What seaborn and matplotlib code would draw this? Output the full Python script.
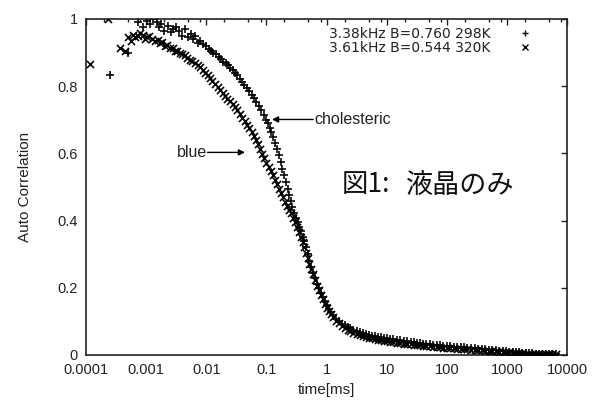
import matplotlib
matplotlib.use("Agg")
import matplotlib.pyplot as plt
import matplotlib.ticker as mticker
from matplotlib.lines import Line2D
import seaborn as sns
import pandas as pd

# ---- data: (time [ms], auto correlation) ----
cholesteric_298K = [
    (2.5e-4, 0.833), (5.0e-4, 0.900), (7.3e-4, 0.990), (9.0e-4, 0.975), (1.03e-3, 0.995),
    (1.15e-3, 0.985), (1.3e-3, 1.000), (1.5e-3, 0.990), (1.65e-3, 0.975), (1.8e-3, 0.985),
    (2.0e-3, 0.965), (2.3e-3, 0.980), (2.6e-3, 0.960), (2.8e-3, 0.970), (3.2e-3, 0.975),
    (3.5e-3, 0.965), (4.0e-3, 0.950), (4.4e-3, 0.970), (5.0e-3, 0.945), (5.5e-3, 0.955),
    (6.0e-3, 0.940), (6.5e-3, 0.950), (7.3e-3, 0.930), (8.0e-3, 0.934), (9.0e-3, 0.925),
    (1.0e-2, 0.920), (1.1e-2, 0.910), (1.2e-2, 0.905), (1.3e-2, 0.898), (1.45e-2, 0.895),
    (1.6e-2, 0.886), (1.75e-2, 0.880), (1.9e-2, 0.873), (2.1e-2, 0.868), (2.3e-2, 0.862),
    (2.5e-2, 0.855), (2.75e-2, 0.848), (3.0e-2, 0.840), (3.3e-2, 0.832), (3.6e-2, 0.822),
    (4.0e-2, 0.812), (4.3e-2, 0.805), (4.7e-2, 0.795), (5.2e-2, 0.785), (5.7e-2, 0.775),
    (6.2e-2, 0.765), (6.8e-2, 0.752), (7.5e-2, 0.740), (8.2e-2, 0.728), (9.0e-2, 0.715),
    (0.098, 0.700), (0.105, 0.690), (0.113, 0.676), (0.12, 0.665), (0.13, 0.648),
    (0.14, 0.630), (0.15, 0.612), (0.16, 0.595), (0.172, 0.575), (0.185, 0.555),
    (0.197, 0.535), (0.21, 0.515), (0.225, 0.495), (0.24, 0.475), (0.255, 0.458),
    (0.27, 0.440), (0.29, 0.424), (0.31, 0.408), (0.33, 0.395), (0.35, 0.382),
    (0.375, 0.368), (0.40, 0.352), (0.425, 0.338), (0.45, 0.322), (0.485, 0.300),
    (0.52, 0.280), (0.56, 0.262), (0.60, 0.245), (0.65, 0.228), (0.70, 0.212),
    (0.75, 0.198), (0.80, 0.186), (0.87, 0.172), (0.95, 0.160), (1.02, 0.148),
    (1.1, 0.138), (1.2, 0.127), (1.3, 0.118), (1.45, 0.108), (1.6, 0.100),
    (1.8, 0.093), (2.0, 0.088), (2.25, 0.083), (2.5, 0.079), (2.8, 0.075),
    (3.2, 0.071), (3.6, 0.068), (4.0, 0.066), (4.5, 0.063), (5.0, 0.061),
    (5.7, 0.058), (6.5, 0.057), (7.2, 0.054), (8.0, 0.053), (9.0, 0.051),
    (10, 0.050), (11.5, 0.048), (13, 0.047), (15, 0.045), (17, 0.044),
    (19.5, 0.042), (22, 0.041), (25, 0.040), (28, 0.038), (32, 0.037),
    (36, 0.035), (41, 0.034), (46, 0.033), (53, 0.032), (60, 0.031),
    (68, 0.030), (78, 0.029), (88, 0.028), (100, 0.027), (115, 0.026),
    (130, 0.025), (150, 0.024), (170, 0.023), (195, 0.023), (220, 0.022),
    (250, 0.021), (290, 0.020), (330, 0.019), (380, 0.018), (440, 0.017),
    (500, 0.016), (570, 0.015), (650, 0.014), (740, 0.013), (850, 0.012),
    (970, 0.011), (1100, 0.010), (1250, 0.009), (1400, 0.008), (1600, 0.008),
    (1800, 0.007), (2050, 0.006), (2300, 0.005), (2650, 0.005), (3000, 0.004),
    (3400, 0.004), (3800, 0.003), (4400, 0.003), (5000, 0.003), (5700, 0.003),
    (6500, 0.003),
]

blue_320K = [
    (1.17e-4, 0.866), (2.3e-4, 1.000), (3.7e-4, 0.913), (4.4e-4, 0.905), (5.0e-4, 0.946),
    (5.5e-4, 0.935), (6.0e-4, 0.952), (6.6e-4, 0.945), (7.3e-4, 0.950), (8.0e-4, 0.958),
    (8.8e-4, 0.952), (9.5e-4, 0.940), (1.03e-3, 0.946), (1.13e-3, 0.950), (1.25e-3, 0.940),
    (1.4e-3, 0.934), (1.55e-3, 0.938), (1.7e-3, 0.928), (1.85e-3, 0.932), (2.06e-3, 0.920),
    (2.25e-3, 0.922), (2.5e-3, 0.913), (2.75e-3, 0.915), (3.0e-3, 0.904), (3.3e-3, 0.906),
    (3.6e-3, 0.898), (4.0e-3, 0.895), (4.4e-3, 0.893), (4.8e-3, 0.885), (5.3e-3, 0.878),
    (5.9e-3, 0.876), (6.5e-3, 0.870), (7.2e-3, 0.862), (8.0e-3, 0.858), (8.7e-3, 0.848),
    (9.5e-3, 0.840), (1.05e-2, 0.832), (1.15e-2, 0.825), (1.27e-2, 0.816), (1.4e-2, 0.808),
    (1.55e-2, 0.798), (1.7e-2, 0.790), (1.87e-2, 0.780), (2.06e-2, 0.772), (2.25e-2, 0.763),
    (2.5e-2, 0.755), (2.75e-2, 0.746), (3.0e-2, 0.738), (3.3e-2, 0.728), (3.6e-2, 0.718),
    (4.0e-2, 0.706), (4.4e-2, 0.695), (4.8e-2, 0.685), (5.2e-2, 0.675), (5.7e-2, 0.663),
    (6.2e-2, 0.652), (6.7e-2, 0.640), (7.2e-2, 0.628), (7.8e-2, 0.613), (8.5e-2, 0.598),
    (9.2e-2, 0.585), (0.10, 0.572), (0.11, 0.560), (0.12, 0.548), (0.13, 0.535),
    (0.14, 0.522), (0.152, 0.508), (0.165, 0.495), (0.177, 0.482), (0.19, 0.470),
    (0.205, 0.455), (0.22, 0.442), (0.24, 0.433), (0.26, 0.422), (0.28, 0.408),
    (0.30, 0.395), (0.325, 0.380), (0.35, 0.365), (0.375, 0.350), (0.40, 0.335),
    (0.425, 0.320), (0.45, 0.305), (0.485, 0.288), (0.52, 0.272), (0.56, 0.256),
    (0.60, 0.240), (0.65, 0.222), (0.70, 0.205), (0.75, 0.192), (0.80, 0.180),
    (0.87, 0.166), (0.95, 0.152), (1.02, 0.141), (1.1, 0.131), (1.2, 0.121),
    (1.3, 0.112), (1.45, 0.102), (1.6, 0.094), (1.8, 0.086), (2.0, 0.080),
    (2.25, 0.075), (2.5, 0.070), (2.8, 0.066), (3.2, 0.062), (3.6, 0.059),
    (4.0, 0.056), (4.5, 0.054), (5.0, 0.052), (5.7, 0.050), (6.5, 0.048),
    (7.2, 0.046), (8.0, 0.045), (9.0, 0.043), (10, 0.042), (11.5, 0.040),
    (13, 0.039), (15, 0.037), (17, 0.036), (19.5, 0.034), (22, 0.033),
    (25, 0.032), (28, 0.031), (32, 0.030), (36, 0.029), (41, 0.028),
    (46, 0.027), (53, 0.026), (60, 0.025), (68, 0.024), (78, 0.023),
    (88, 0.022), (100, 0.022), (115, 0.021), (130, 0.020), (150, 0.019),
    (170, 0.019), (195, 0.018), (220, 0.017), (250, 0.016), (290, 0.016),
    (330, 0.015), (380, 0.014), (440, 0.013), (500, 0.012), (570, 0.011),
    (650, 0.011), (740, 0.010), (850, 0.009), (970, 0.008), (1100, 0.008),
    (1250, 0.007), (1400, 0.006), (1600, 0.005), (1800, 0.005), (2050, 0.004),
    (2300, 0.004), (2650, 0.003), (3000, 0.003), (3400, 0.002), (3800, 0.002),
    (4400, 0.002), (5000, 0.002), (5700, 0.002), (6500, 0.002),
]

legend_labels = ["3.38kHz B=0.760 298K", "3.61kHz B=0.544 320K"]
x_ticks = [1e-4, 1e-3, 1e-2, 1e-1, 1, 10, 100, 1000, 10000]
x_tick_labels = ["0.0001", "0.001", "0.01", "0.1", "1", "10", "100", "1000", "10000"]
y_ticks = [0, 0.2, 0.4, 0.6, 0.8, 1.0]
y_tick_labels = ["0", "0.2", "0.4", "0.6", "0.8", "1"]

sns.set_theme(style="white")
plt.rcParams["font.family"] = ["Liberation Sans", "DejaVu Sans"]

W, H = 593, 403
fig = plt.figure(figsize=(W / 100, H / 100), dpi=100)
ax = fig.add_axes([86 / W, 1 - 355 / H, (567 - 86) / W, (355 - 19) / H])

df_c = pd.DataFrame(cholesteric_298K, columns=["t", "y"])
df_b = pd.DataFrame(blue_320K, columns=["t", "y"])
sns.scatterplot(data=df_c, x="t", y="y", marker="+", color="black", s=38,
                linewidth=1.15, ax=ax, legend=False, zorder=3)
sns.scatterplot(data=df_b, x="t", y="y", marker="x", color="black", s=26,
                linewidth=1.15, ax=ax, legend=False, zorder=3)

ax.set_xscale("log")
ax.set_xlim(1e-4, 1e4)
ax.set_ylim(0, 1)
ax.xaxis.set_major_locator(mticker.FixedLocator(x_ticks))
ax.xaxis.set_major_formatter(mticker.FixedFormatter(x_tick_labels))
ax.xaxis.set_minor_locator(mticker.LogLocator(base=10, subs=(2, 5, 8), numticks=20))
ax.xaxis.set_minor_formatter(mticker.NullFormatter())
ax.set_yticks(y_ticks)
ax.set_yticklabels(y_tick_labels)

ax.tick_params(axis="both", which="both", direction="in", top=True, right=True,
               color="#222222", labelcolor="#222222", labelsize=10.5)
ax.tick_params(axis="both", which="major", length=4.5, width=1)
ax.tick_params(axis="x", which="minor", length=2.5, width=1)
ax.tick_params(axis="x", which="major", pad=6)
ax.tick_params(axis="y", which="major", pad=6)
for sp in ax.spines.values():
    sp.set_color("#222222")
    sp.set_linewidth(1.2)
ax.grid(False)

ax.set_xlabel("time[ms]", fontsize=11, color="#222222", labelpad=4)
ax.set_ylabel("Auto Correlation", fontsize=11, color="#222222", labelpad=18)

handles = [Line2D([], [], marker="+", color="black", linestyle="none", markersize=5, markeredgewidth=1),
           Line2D([], [], marker="x", color="black", linestyle="none", markersize=4, markeredgewidth=1)]
leg = ax.legend(handles, legend_labels, loc="upper right", markerfirst=False, frameon=False,
                prop={"family": "DejaVu Sans", "size": 10.0}, labelspacing=0.0,
                handlelength=1.0, handletextpad=2.0,
                borderaxespad=0.2, bbox_to_anchor=(0.945, 1.0))
for t in leg.get_texts():
    t.set_color("#222222")

arrow = dict(arrowstyle="-|>", color="black", lw=1.0, mutation_scale=9, shrinkA=0, shrinkB=0)
ax.annotate("", xy=(0.124, 0.701), xytext=(0.60, 0.701), arrowprops=arrow)
ax.text(0.62, 0.701, "cholesteric", fontsize=11.5, va="center", ha="left", color="#222222")
ax.annotate("", xy=(0.044, 0.603), xytext=(0.0105, 0.603), arrowprops=arrow)
ax.text(0.0103, 0.603, "blue", fontsize=11.5, va="center", ha="right", color="#222222")

ax.text(0.532, 0.506, "図1:", transform=ax.transAxes, fontsize=19, va="center", ha="left",
        family=["Noto Sans CJK JP", "DejaVu Sans"], color="#111111")
ax.text(0.665, 0.506, "液晶のみ", transform=ax.transAxes, fontsize=19.5, va="center", ha="left",
        family=["Noto Sans CJK JP", "DejaVu Sans"], color="#111111")

fig.savefig("out.png", dpi=100, facecolor="white")
